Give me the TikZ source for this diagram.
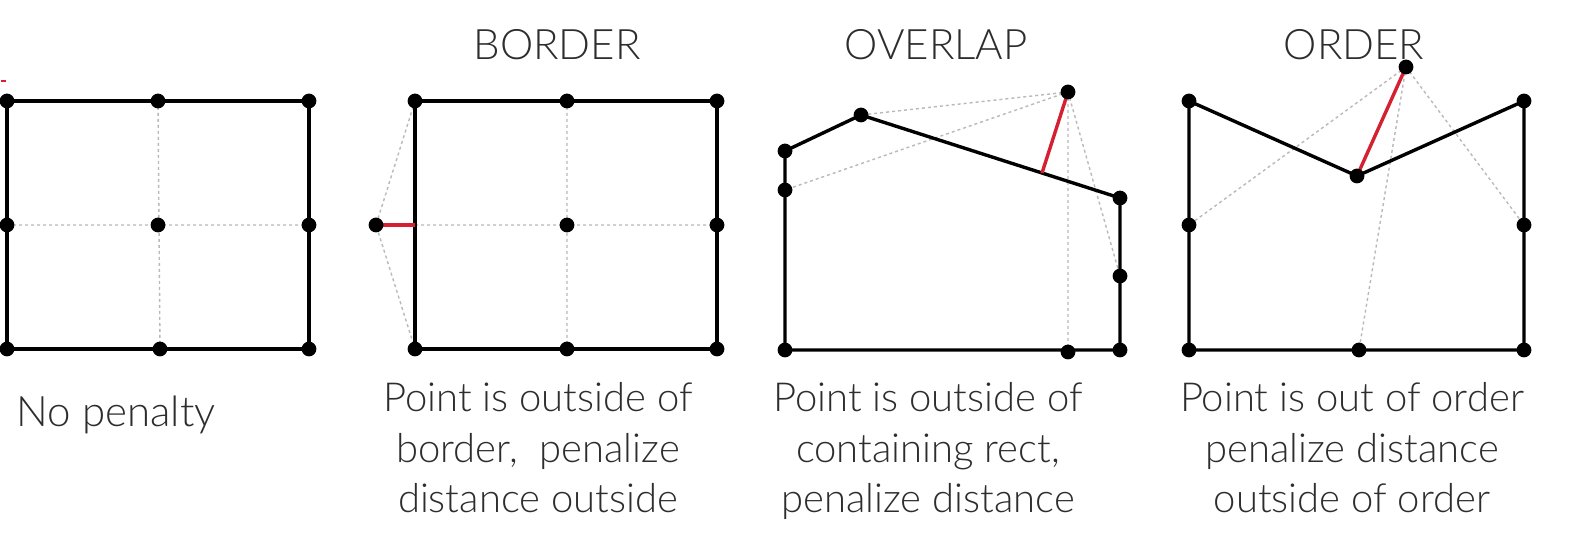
\documentclass[tikz,border=0pt]{standalone}
\usepackage{fontspec}
\setmainfont{Lato Light}
\usetikzlibrary{calc}
\definecolor{penred}{RGB}{212,32,48}
\definecolor{txtgray}{RGB}{45,45,45}
\tikzset{
  wall/.style={line width=1.7pt, line join=round},
  guide/.style={gray!55, line width=0.7pt, dash pattern=on 1.5pt off 1.5pt},
  penalty/.style={penred, line width=1.7pt},
  caption/.style={font=\fontsize{20}{25.3}\selectfont, text=txtgray, align=center, inner sep=0pt, anchor=north},
  heading/.style={font=\fontsize{21}{24}\selectfont, text=txtgray, inner sep=0pt, anchor=base},
  vertex/.style={fill=black},
}
\begin{document}
\begin{tikzpicture}[x=0.5pt, y=-0.5pt]
    \useasboundingbox (0,0) rectangle (1587,533);

    % Headings
    \node[heading] (hborder) at (557,60) {BORDER};
    \node[heading] (hoverlap) at (936,60) {OVERLAP};
    \node[heading] (horder) at (1354,60) {ORDER};

    % Stray mark
    \coordinate (mark) at (1,81);
    \draw[penred, line width=0.6pt] (mark) -- ++(5,0);

    % Panel 1: no penalty
    \coordinate (a1) at (7,101);   \coordinate (a2) at (158,101); \coordinate (a3) at (309,101);
    \coordinate (a4) at (7,225);   \coordinate (a5) at (158,225); \coordinate (a6) at (309,225);
    \coordinate (a7) at (7,349);   \coordinate (a8) at (160,349); \coordinate (a9) at (309,349);
    \draw[guide] (a2) -- (a8) (a4) -- (a6);
    \draw[wall] (a1) -- (a3) -- (a9) -- (a7) -- cycle;

    % Panel 2: border
    \coordinate (b1) at (415,101); \coordinate (b2) at (567,101); \coordinate (b3) at (717,101);
    \coordinate (b4) at (415,225); \coordinate (b5) at (567,225); \coordinate (b6) at (717,225);
    \coordinate (b7) at (415,349); \coordinate (b8) at (567,349); \coordinate (b9) at (717,349);
    \coordinate (bx) at (376,225);
    \draw[guide] (b2) -- (b8) (b4) -- (b6) (b1) -- (bx) -- (b7);
    \draw[wall] (b1) -- (b3) -- (b9) -- (b7) -- cycle;
    \draw[penalty] (bx) -- (b4);

    % Panel 3: overlap
    \coordinate (c1) at (785,350);  \coordinate (c2) at (785,190);  \coordinate (c3) at (785,151);
    \coordinate (c4) at (861,115);  \coordinate (c5) at (1120,198); \coordinate (c6) at (1120,276);
    \coordinate (c7) at (1120,350); \coordinate (c8) at (1068,352);
    \coordinate (cx) at (1068,92);
    \coordinate (cfoot) at ($(c4)!(cx)!(c5)$);
    \draw[guide] (cx) -- (c4) (cx) -- (c2) (cx) -- (c8) (cx) -- (c6);
    \draw[wall] (c1) -- (c3) -- (c4) -- (c5) -- (c7) -- (c1);
    \draw[penalty] (cx) -- (cfoot);

    % Panel 4: order
    \coordinate (d1) at (1189,101); \coordinate (d2) at (1189,225); \coordinate (d3) at (1189,350);
    \coordinate (d4) at (1359,350); \coordinate (d5) at (1524,350); \coordinate (d6) at (1524,225);
    \coordinate (d7) at (1524,101); \coordinate (d8) at (1357,176);
    \coordinate (dx) at (1406,67);
    \draw[guide] (dx) -- (d2) (dx) -- (d4) (dx) -- (d6);
    \draw[wall] (d1) -- (d8) -- (d7) -- (d5) -- (d3) -- cycle;
    \draw[penalty] (dx) -- (d8);

    % Vertices
    \foreach \v in {a1,a2,a3,a4,a5,a6,a7,a8,a9,
                    b1,b2,b3,b5,b6,b7,b8,b9,bx,
                    c1,c2,c3,c4,c5,c6,c7,c8,cx,
                    d1,d2,d3,d4,d5,d6,d7,d8,dx}
        \fill[vertex] (\v) circle (3.7pt);

    % Captions
    \node[caption, anchor=base west] (cap1) at (16,427) {\fontsize{21}{25.3}\selectfont No penalty};
    \node[caption] (cap2) at (538,382) {Point is outside of\\border,\ \ penalize\\distance outside};
    \node[caption] (cap3) at (928,382) {Point is outside of\\containing rect,\\penalize distance};
    \node[caption] (cap4) at (1352,382) {Point is out of order\\penalize distance\\outside of order};
\end{tikzpicture}
\end{document}
